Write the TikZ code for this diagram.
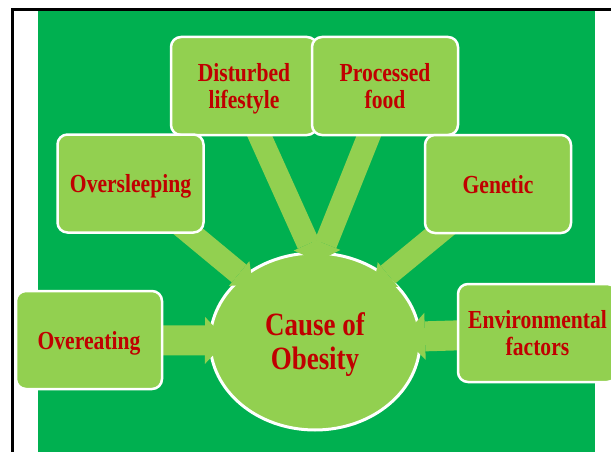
\documentclass[tikz,border=0pt]{standalone}
\usepackage{fontspec}
\setmainfont[FakeStretch=0.83]{Liberation Serif}
\usepackage{tikz}
\usetikzlibrary{arrows.meta}
\usetikzlibrary{shapes.geometric}
\definecolor{bggreen}{HTML}{00B050}
\definecolor{boxgreen}{HTML}{92D050}
\definecolor{textred}{HTML}{C00000}
\pgfdeclarelayer{back}
\pgfdeclarelayer{under}
\pgfsetlayers{back,under,main}
\tikzstyle{reason}=[
    draw=white,
    line width=2.5pt,
    fill=boxgreen,
    rounded corners=10pt,
    minimum width=146pt,
    minimum height=98pt,
    inner sep=0pt,
    text depth=0pt,
    align=center,
    text=textred,
    font=\bfseries\fontsize{26}{27}\selectfont
]
\tikzstyle{cause}=[
    ellipse,
    draw=white,
    line width=3pt,
    fill=boxgreen,
    minimum width=210pt,
    minimum height=177pt,
    inner sep=0pt,
    text depth=0pt,
    align=center,
    text=textred,
    font=\bfseries\fontsize{32.5}{34}\selectfont
]
\tikzstyle{push}=[
    draw=boxgreen,
    line width=23pt,
    -{Triangle[length=18pt, width=32pt, line width=0pt]}
]
\tikzstyle{widepush}=[
    draw=boxgreen,
    line width=30pt,
    -{Triangle[length=22pt, width=47pt, line width=0pt]}
]

\begin{document}
\begin{tikzpicture}[x=1pt,y=-1pt]
        \clip (0,0) rectangle (611,452);

        % frame and centre
        \begin{pgfonlayer}{back}
            \fill[white] (0,0) rectangle (611,452);
            \fill[bggreen] (38,11) rectangle (595,452);
            \draw[line width=3pt] (12.5,452) -- (12.5,9.5) -- (611,9.5);
            \node[cause] (cause) at (315,341.5) {Cause of\\Obesity};
        \end{pgfonlayer}

        % reasons
        \node[reason] (disturbed) at (244,86) {Disturbed\\lifestyle};
        \node[reason] (processed) at (385,86) {Processed\\food};
        \node[reason] (oversleep) at (130.5,183.5) {Oversleeping};
        \node[reason] (genetic) at (498,184) {Genetic};
        \node[reason] (overeat) at (89,340) {Overeating};
        \node[reason, minimum width=159pt] (environ) at (537.5,333) {Environmental\\factors};

        % arrows
        \begin{pgfonlayer}{under}
            \coordinate (tdisturbed) at (315.7,260.4);
            \coordinate (tprocessed) at (318.9,260.7);
            \coordinate (toversleep) at (253,285);
            \coordinate (tgenetic) at (374,286);
            \coordinate (tovereat) at (227,340.5);
            \coordinate (tenviron) at (403,337);

            \draw[push] ([xshift=-6.8pt]disturbed.center) -- (tdisturbed);
            \draw[push] ([xshift=3.8pt]processed.center) -- (tprocessed);
            \draw[push] (oversleep.center) -- (toversleep);
            \draw[push] (genetic.center) -- (tgenetic);
            \draw[widepush] (overeat.center) -- (tovereat);
            \draw[widepush] (environ.center) -- (tenviron);
        \end{pgfonlayer}
\end{tikzpicture}
\end{document}
